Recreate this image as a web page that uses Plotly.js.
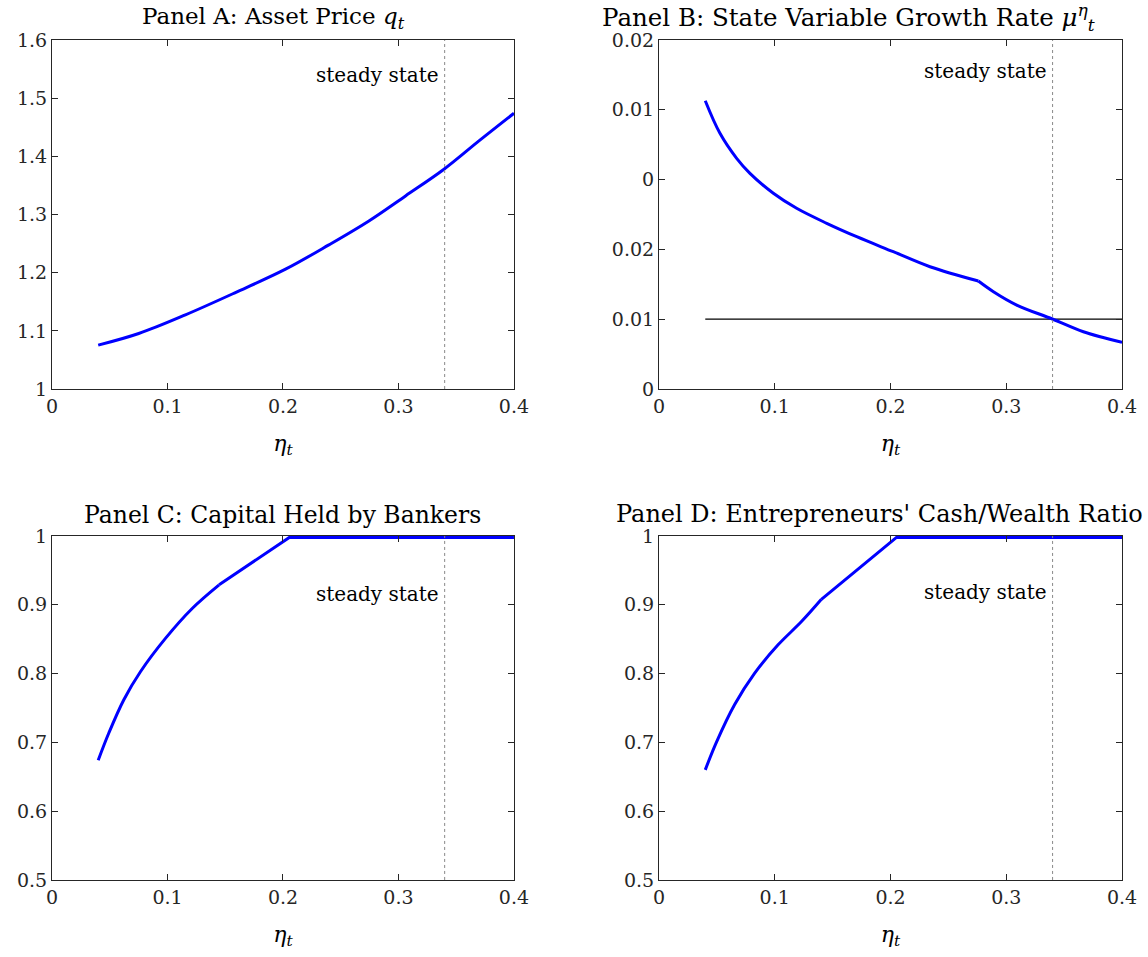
<!DOCTYPE html>
<html>
<head>
<meta charset="utf-8">
<script src="https://cdn.plot.ly/plotly-3.0.1.min.js"></script>
<style>html,body{margin:0;padding:0;background:#fff;}#chart{width:1148px;height:957px;}</style>
</head>
<body>
<div id="chart"></div>
<script>
// Panel A: asset price q_t
const etaA = [0.04, 0.0751, 0.1155, 0.1588, 0.2022, 0.2397, 0.2744, 0.3061, 0.3394, 0.3697, 0.4];
const qA   = [1.0754, 1.0954, 1.1275, 1.1658, 1.206, 1.2478, 1.289, 1.332, 1.3778, 1.4265, 1.474];
// Panel B: state variable growth rate (curved part up to the kink, then after it)
const etaB1 = [0.04, 0.0527, 0.0671, 0.0786, 0.0988, 0.1189, 0.1449, 0.1708, 0.2024, 0.2341, 0.2759];
const muB1  = [0.0413, 0.03663, 0.03305, 0.0309, 0.02804, 0.02589, 0.02374, 0.02182, 0.01967, 0.01752, 0.01547];
const etaB2 = [0.2759, 0.2889, 0.309, 0.3398, 0.3666, 0.4];
const muB2  = [0.01547, 0.01394, 0.01203, 0.01003, 0.00821, 0.00669];
const refEtaB = [0.04, 0.4];
const refMuB  = [0.01, 0.01];
const tickValsB = [0, 0.01, 0.02, 0.03, 0.04, 0.05];
const tickTextB = ['0', '0.01', '0.02', '0', '0.01', '0.02'];
// Panel C: capital held by bankers (curved part, then straight part, then flat)
const etaC1 = [0.04, 0.0492, 0.0622, 0.0767, 0.0984, 0.1216, 0.1447];
const capC1 = [0.674, 0.7136, 0.762, 0.803, 0.8515, 0.895, 0.929];
const etaC2 = [0.1447, 0.2055, 0.4];
const capC2 = [0.929, 0.998, 0.998];
// Panel D: entrepreneurs' cash/wealth ratio
const etaD1 = [0.04, 0.0496, 0.0654, 0.0827, 0.1029, 0.1231, 0.1403];
const cashD1 = [0.66, 0.70, 0.755, 0.8007, 0.8418, 0.8756, 0.908];
const etaD2 = [0.1403, 0.2052, 0.4];
const cashD2 = [0.908, 0.998, 0.998];
// steady state
const etaSS = 0.34;
const titles = ['Panel A: Asset Price <i>q</i><sub><i>t</i></sub>',
                'Panel B: State Variable Growth Rate <i>μ</i><sup><i>η</i></sup><sub><i>t</i></sub>',
                'Panel C: Capital Held by Bankers',
                "Panel D: Entrepreneurs' Cash/Wealth Ratio"];
const ssLabel = 'steady state';
const xTitle = '<i>η</i><sub><i>t</i></sub>';
const xTicks = [0, 0.1, 0.2, 0.3, 0.4];

const FONT = 'DejaVu Serif, serif';
const AX = '#262626';
const BLUE = '#0000ff';

function blue(x, y, xr, yr, smooth) {
  return {x: x, y: y, xaxis: xr, yaxis: yr, mode: 'lines',
    line: {color: BLUE, width: 3, shape: smooth ? 'spline' : 'linear', smoothing: 1}};
}
const traces = [
  blue(etaA, qA, 'x', 'y', true),
  {x: refEtaB, y: refMuB, xaxis: 'x2', yaxis: 'y2', mode: 'lines', line: {color: '#000', width: 1.2}},
  blue(etaB1, muB1, 'x2', 'y2', true),
  blue(etaB2, muB2, 'x2', 'y2', true),
  blue(etaC1, capC1, 'x3', 'y3', true),
  blue(etaC2, capC2, 'x3', 'y3', false),
  blue(etaD1, cashD1, 'x4', 'y4', true),
  blue(etaD2, cashD2, 'x4', 'y4', false)
];

const dx = [[0.0453, 0.4477], [0.5740, 0.9774]];
const dy = [[0.5935, 0.9582], [0.0805, 0.4399]];

function xa(dom, anchor) {
  return {domain: dom, anchor: anchor, range: [0, 0.4], tickvals: xTicks, ticktext: ['0','0.1','0.2','0.3','0.4'],
    ticks: 'inside', ticklen: 6, tickcolor: AX, mirror: 'allticks', showline: true, linecolor: AX, linewidth: 1,
    showgrid: false, zeroline: false, tickfont: {family: FONT, size: 19, color: AX},
    title: {text: xTitle, font: {family: FONT, size: 22, color: '#000'}, standoff: 19}};
}
function ya(dom, anchor, range, vals, text) {
  return {domain: dom, anchor: anchor, range: range, tickvals: vals, ticktext: text,
    ticks: 'inside', ticklen: 6, tickcolor: AX, mirror: 'allticks', showline: true, linecolor: AX, linewidth: 1,
    showgrid: false, zeroline: false, tickfont: {family: FONT, size: 19, color: AX}};
}

const shapes = ['x', 'x2', 'x3', 'x4'].map((xr, i) => ({
  type: 'line', xref: xr, yref: (i === 0 ? 'y' : 'y' + (i + 1)) + ' domain', x0: etaSS, x1: etaSS, y0: 0, y1: 1,
  line: {color: '#888', width: 1, dash: 'dot'}
}));

const ssY = [1.54, 0.0456, 0.9158, 0.9187];
const annotations = [];
['x', 'x2', 'x3', 'x4'].forEach((xr, i) => {
  annotations.push({xref: xr, yref: i === 0 ? 'y' : 'y' + (i + 1), x: 0.337, y: ssY[i], text: ssLabel,
    showarrow: false, xanchor: 'right', yanchor: 'middle', font: {family: FONT, size: 20, color: '#000'}});
});
// title left edges (px) and sizes
const titleLeft = [140, 600, 82, 614];
const titleTop = [dy[0][1], dy[0][1], dy[1][1], dy[1][1]];
const titleSizes = [23, 24.5, 23.5, 24];
const titleShift = [5, 3, 5, 6];
titles.forEach((t, i) => {
  annotations.push({xref: 'paper', yref: 'paper', x: titleLeft[i] / 1148, y: titleTop[i], text: t, showarrow: false,
    xanchor: 'left', yanchor: 'bottom', yshift: titleShift[i], font: {family: FONT, size: titleSizes[i], color: '#000'}});
});

const layout = {
  width: 1148, height: 957, margin: {l: 0, r: 0, t: 0, b: 0}, showlegend: false,
  paper_bgcolor: '#fff', plot_bgcolor: '#fff',
  xaxis: xa(dx[0], 'y'), yaxis: ya(dy[0], 'x', [1, 1.6], [1, 1.1, 1.2, 1.3, 1.4, 1.5, 1.6], ['1','1.1','1.2','1.3','1.4','1.5','1.6']),
  xaxis2: xa(dx[1], 'y2'), yaxis2: ya(dy[0], 'x2', [0, 0.05], tickValsB, tickTextB),
  xaxis3: xa(dx[0], 'y3'), yaxis3: ya(dy[1], 'x3', [0.5, 1], [0.5, 0.6, 0.7, 0.8, 0.9, 1], ['0.5','0.6','0.7','0.8','0.9','1']),
  xaxis4: xa(dx[1], 'y4'), yaxis4: ya(dy[1], 'x4', [0.5, 1], [0.5, 0.6, 0.7, 0.8, 0.9, 1], ['0.5','0.6','0.7','0.8','0.9','1']),
  shapes: shapes, annotations: annotations
};

Plotly.newPlot('chart', traces, layout, {displayModeBar: false, staticPlot: true});
</script>
</body>
</html>
